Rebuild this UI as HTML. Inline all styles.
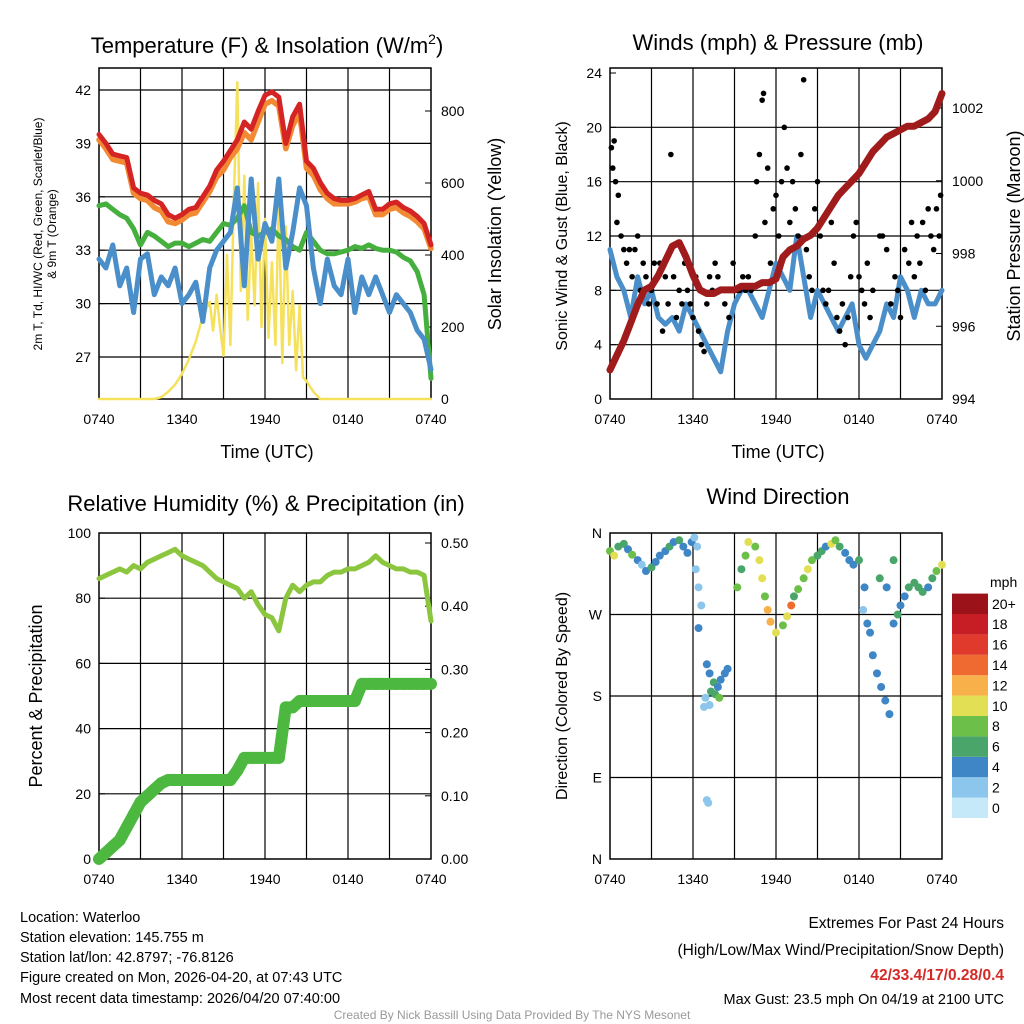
<!DOCTYPE html>
<html><head><meta charset="utf-8">
<style>
html,body{margin:0;padding:0;background:#fff;}
svg{display:block;font-family:"Liberation Sans",sans-serif;}
</style></head>
<body>
<svg id="chart" width="1024" height="1024" viewBox="0 0 1024 1024">
<rect width="1024" height="1024" fill="#fff"/>
<g id="g1"></g>
<g id="g2"></g>
<g id="g3"></g>
<g id="g4"></g>
<g font-size="14.5" fill="#000">
<text x="20" y="922">Location: Waterloo</text>
<text x="20" y="942">Station elevation: 145.755 m</text>
<text x="20" y="962">Station lat/lon: 42.8797; -76.8126</text>
<text x="20" y="982">Figure created on Mon, 2026-04-20, at 07:43 UTC</text>
<text x="20" y="1003">Most recent data timestamp: 2026/04/20 07:40:00</text>
</g>
<g font-size="15.5" text-anchor="end">
<text x="1004" y="928">Extremes For Past 24 Hours</text>
<text x="1004" y="955">(High/Low/Max Wind/Precipitation/Snow Depth)</text>
<text x="1004" y="980" fill="#d42a27" font-weight="bold">42/33.4/17/0.28/0.4</text>
<text x="1004" y="1004" font-size="14.5">Max Gust: 23.5 mph On 04/19 at 2100 UTC</text>
</g>
<text x="512" y="1019" text-anchor="middle" font-size="12" fill="#999">Created By Nick Bassill Using Data Provided By The NYS Mesonet</text>
</svg>
<script>
// ---- data ----
const xTickLabels = ["0740","1340","1940","0140","0740"];
const tempRed = [39.5,39.0,38.4,38.3,38.2,36.5,36.2,36.1,35.8,35.6,35.0,34.8,35.0,35.3,35.4,36.0,36.6,37.5,38.0,38.6,39.2,40.2,39.8,40.8,41.7,41.9,41.6,39.0,40.5,41.2,38.0,37.6,36.8,36.2,35.9,35.8,35.8,35.9,36.1,36.3,35.3,35.3,35.6,35.7,35.4,35.2,34.9,34.5,33.3];
const tempOrange = [39.2,38.7,38.1,38.0,37.9,36.2,35.9,35.8,35.4,35.2,34.6,34.5,34.7,35.0,35.1,35.7,36.3,37.1,37.5,38.2,38.7,39.6,39.2,40.2,41.2,41.4,41.1,38.7,40.0,40.7,37.6,37.2,36.4,35.9,35.6,35.6,35.6,35.7,35.9,36.0,35.0,35.0,35.3,35.4,35.1,34.9,34.6,34.2,33.1];
const tempGreen = [35.5,35.6,35.3,35.0,34.8,34.2,33.3,34.0,33.8,33.5,33.2,33.4,33.4,33.2,33.4,33.6,33.5,34.0,34.5,34.4,34.8,35.5,34.0,33.8,34.0,34.2,33.8,33.6,33.2,33.0,34.0,33.5,33.0,32.8,32.8,32.9,33.0,33.2,33.1,33.3,33.1,33.0,33.0,32.9,32.6,32.4,31.8,30.5,25.8];
const tempBlue = [32.5,32.0,33.3,31.0,32.0,29.5,32.5,32.8,30.5,31.5,31.0,32.0,30.0,30.5,31.2,29.0,32.0,33.0,33.5,34.0,36.5,31.0,37.0,32.5,34.5,33.5,37.0,32.0,34.0,36.5,35.5,32.0,30.0,32.5,31.0,30.5,32.5,29.5,31.5,30.5,31.5,30.5,29.5,30.5,30.0,29.5,28.5,28.0,26.3];
const solarTimes = [0,4,4.5,5,5.5,6,6.5,7,7.5,8,8.25,8.5,8.75,9,9.25,9.5,9.75,10,10.25,10.5,10.75,11,11.25,11.5,11.75,12,12.25,12.5,12.75,13,13.25,13.5,13.75,14,14.25,14.5,14.75,15,15.5,16,24];
const solarValues = [0,0,5,20,40,70,110,160,230,270,190,290,200,120,400,150,560,880,300,620,220,460,260,600,200,500,170,380,150,550,100,480,150,300,80,260,60,50,20,0,0];
const windSpeed = [11,9,8,6,9,7,8,6,5.5,6,5,7,6,5,4,3,2,5,7,8,8,7,6,8,10,9,8,12,9,6,8,7,6,5,6,7,4,3,4,5,7,6,9,8,6,8,7,7,8];
const pressure = [994.8,995.2,995.6,996.1,996.6,997.0,997.1,997.4,997.8,998.2,998.3,997.9,997.4,997.0,996.9,996.9,997.0,997.0,997.0,997.1,997.1,997.1,997.2,997.2,997.3,997.9,998.1,998.2,998.4,998.5,998.7,999.0,999.3,999.6,999.8,1000.0,1000.2,1000.5,1000.8,1001.0,1001.2,1001.3,1001.4,1001.5,1001.5,1001.6,1001.7,1001.9,1002.4];
const gustTimes = [0.1,0.2,0.3,0.4,0.5,0.6,0.8,1.0,1.2,1.4,1.6,1.8,2.0,2.2,2.4,2.6,2.8,3.0,3.2,3.4,3.6,3.8,4.0,4.2,4.4,4.6,4.8,5.0,5.2,5.4,5.6,5.8,6.0,6.2,6.4,6.6,6.8,7.0,7.2,7.4,7.6,7.8,8.0,8.3,8.6,8.9,9.2,9.4,9.6,9.8,10.0,10.2,10.5,10.6,10.8,11.0,11.1,11.2,11.4,11.6,11.8,12.0,12.2,12.4,12.6,12.8,13.0,13.2,13.4,13.6,13.8,14.0,14.2,14.4,14.6,14.8,15.0,15.2,15.4,15.6,15.8,16.0,16.2,16.4,16.6,16.8,17.0,17.2,17.4,17.6,17.8,18.0,18.2,18.4,18.6,18.8,19.0,19.5,19.7,20.0,20.3,20.6,20.8,21.0,21.3,21.6,21.8,22.0,22.2,22.4,22.6,22.8,23.0,23.2,23.4,23.6,23.8,23.9];
const gustValues = [18.5,17,19,16,13,15,12,11,10,11,9,11,12,8,10,9,7,8,10,7,10,5,9,7,18,9,6,8,7,10,8,7,6,9,5,4,3.5,7,9,8,10,9,8,7,6,10,8,8,9,8,9,8,12,16,18,22,22.5,13,17,10,14,15,12,16,20,17,13,16,14,12,18,23.5,11,9,8,14,16,12,8,7,8,13,10,6,5,7,4,6,9,12,13,9,8,7,10,6,8,12,12,11,7,9,8,6,11,10,13,9,12,10,13,8,14,12,11,14,12,15];
const rh = [86,87,88,89,88,90,89,91,92,93,94,95,93,92,91,90,88,86,85,84,83,80,82,78,75,74,70,80,84,82,84,85,85,87,88,88,89,89,90,91,93,91,90,89,89,88,88,87,73];
const precip = [0,0.01,0.02,0.03,0.05,0.07,0.09,0.10,0.11,0.12,0.125,0.125,0.125,0.125,0.125,0.125,0.125,0.125,0.125,0.125,0.14,0.16,0.16,0.16,0.16,0.16,0.16,0.24,0.24,0.25,0.25,0.25,0.25,0.25,0.25,0.25,0.25,0.25,0.277,0.277,0.277,0.277,0.277,0.277,0.277,0.277,0.277,0.277,0.277];
const dirTimes = [0,0.3,0.6,1,1.3,1.6,2,2.3,2.6,3,3.3,3.6,4,4.3,4.6,5,5.3,5.6,5.9,6.1,6.3,6.2,6.4,6.6,6.4,7.0,7.2,7.5,7.8,8.0,8.3,8.5,7.3,7.6,7.9,6.9,6.8,7.2,7.0,7.1,9.2,9.5,9.8,10.0,10.5,10.8,11.0,11.2,11.4,11.6,12.0,12.5,12.8,13.1,13.3,13.6,14.0,14.3,14.6,15.0,15.3,15.6,16.0,16.3,16.6,17.0,17.3,17.6,18.0,18.4,18.3,18.6,18.8,19.0,19.3,19.6,19.9,20.2,20.5,20.8,21.0,21.3,21.6,22.0,22.3,22.6,23.0,23.3,23.6,24,19.5,20.0,20.5];
const dirDegrees = [340,335,345,348,342,336,330,325,318,322,328,335,340,345,350,352,345,338,350,355,345,320,300,280,255,215,205,195,190,198,205,210,185,182,178,178,168,170,65,62,300,320,335,350,345,330,310,290,275,262,250,258,268,280,290,298,310,320,330,335,340,345,348,352,345,338,330,325,330,300,275,260,250,225,205,190,175,160,260,270,280,290,300,305,300,295,300,310,318,325,310,300,330];
const dirSpeeds = [8,10,6,6,4,8,4,2,4,6,4,4,4,6,4,6,4,4,4,2,2,2,2,2,4,4,4,6,4,4,4,4,6,6,8,2,2,2,2,2,8,6,8,10,8,10,10,8,12,12,10,8,10,14,6,8,8,10,8,6,6,4,10,8,6,4,4,4,6,4,2,4,4,4,4,4,4,4,4,6,4,4,6,6,6,6,4,6,8,10,6,4,6];
const speedColors = ["#c6e9fa","#8cc6ec","#3f86c6","#4aa56a","#6cbf48","#e3df55","#f8b04a","#ef6a30","#e03a2d","#c71e25","#9b1219"];
const speedLabels = ["0","2","4","6","8","10","12","14","16","18","20+"];

// ---- helpers ----
const NS = "http://www.w3.org/2000/svg";
function mk(parent, tag, attrs, txt){
  const e = document.createElementNS(NS, tag);
  for (const k in attrs) e.setAttribute(k, attrs[k]);
  if (txt !== undefined) e.textContent = txt;
  parent.appendChild(e);
  return e;
}
function linScale(d0,d1,r0,r1){ return v => r0 + (v-d0)*(r1-r0)/(d1-d0); }

function frame(g, P, hGrid, yL, leftTicks, leftFmt, rightTicks, yR, rightFmt){
  const xs = linScale(0,24,P.x0,P.x1);
  for (let h=3; h<24; h+=3){
    const l = mk(g,"line",{x1:xs(h),x2:xs(h),y1:P.y0,y2:P.y1,stroke:"#000","stroke-width":1.2});
    
    
  }
  hGrid.forEach(v=>{
    const l = mk(g,"line",{x1:P.x0,x2:P.x1,y1:yL(v),y2:yL(v),stroke:"#000","stroke-width":1.2});
    
    
  });
  const fr = mk(g,"rect",{x:P.x0,y:P.y0,width:P.x1-P.x0,height:P.y1-P.y0,fill:"none",stroke:"#000","stroke-width":1.5});
  
  
  xTickLabels.forEach((t,i)=>{
    const x = xs(i*6);
    mk(g,"line",{x1:x,x2:x,y1:P.y1,y2:P.y1-6,stroke:"#000"});
    const tx = mk(g,"text",{x:x,y:P.y1+25,"text-anchor":"middle","font-size":14},t);
    
    
  });
  leftTicks.forEach(v=>{
    mk(g,"line",{x1:P.x0,x2:P.x0+6,y1:yL(v),y2:yL(v),stroke:"#000"});
    const tx = mk(g,"text",{x:P.x0-8,y:yL(v)+5,"text-anchor":"end","font-size":14},leftFmt(v));
    
    
  });
  if (rightTicks){
    rightTicks.forEach(v=>{
      mk(g,"line",{x1:P.x1,x2:P.x1-6,y1:yR(v),y2:yR(v),stroke:"#000"});
      const tx = mk(g,"text",{x:P.x1+10,y:yR(v)+5,"font-size":14},rightFmt(v));
      
      
    });
  }
  return xs;
}
function polyline(g, pts, color, w, name){
  const p = mk(g,"polyline",{points:pts.map(p=>p[0].toFixed(1)+","+p[1].toFixed(1)).join(" "),fill:"none",stroke:color,"stroke-width":w,"stroke-linejoin":"round","stroke-linecap":"round"});
  
  
  return p;
}

// ---- Panel 1 ----
(function(){
  const g = document.getElementById("g1");
  const P = {x0:99,x1:431,y0:68,y1:399};
  const yT = linScale(42,27,90,357);
  const yS = linScale(0,800,399,111);
  const xs = frame(g,P,[27,30,33,36,39,42],yT,[27,30,33,36,39,42],v=>String(v),[0,200,400,600,800],yS,v=>String(v));
  polyline(g, solarTimes.map((t,i)=>[xs(t),yS(solarValues[i])]), "#f6e15c", 2.5, "solar-insolation-line");
  polyline(g, tempGreen.map((v,i)=>[xs(i*0.5),yT(v)]), "#45b03e", 5, "green-temp-line");
  polyline(g, tempBlue.map((v,i)=>[xs(i*0.5),yT(v)]), "#4a8fc9", 5, "blue-temp-line");
  polyline(g, tempOrange.map((v,i)=>[xs(i*0.5),yT(v)]), "#f28a33", 5.5, "orange-temp-line");
  polyline(g, tempRed.map((v,i)=>[xs(i*0.5),yT(v)]), "#d42424", 5, "red-temp-line");
  const t = mk(g,"text",{x:267,y:53,"text-anchor":"middle","font-size":22});
  t.innerHTML = 'Temperature (F) &amp; Insolation (W/m<tspan dy="-9" font-size="14">2</tspan><tspan dy="9">)</tspan>';
  
  
  const xl = mk(g,"text",{x:267,y:458,"text-anchor":"middle","font-size":18},"Time (UTC)");
  
  
  const yl = mk(g,"text",{transform:"translate(42,234) rotate(-90)","text-anchor":"middle","font-size":12},"2m T, Td, HI/WC (Red, Green, Scarlet/Blue)");
  
  
  const yl2 = mk(g,"text",{transform:"translate(56,234) rotate(-90)","text-anchor":"middle","font-size":12},"& 9m T (Orange)");
  
  
  const yr = mk(g,"text",{transform:"translate(501,234) rotate(-90)","text-anchor":"middle","font-size":18},"Solar Insolation (Yellow)");
  
  
})();

// ---- Panel 2 ----
(function(){
  const g = document.getElementById("g2");
  const P = {x0:610,x1:942,y0:68,y1:399};
  const yW = linScale(0,24,399,73);
  const yP = linScale(994,1002,399,108);
  const xs = frame(g,P,[4,8,12,16,20],yW,[0,4,8,12,16,20,24],v=>String(v),[994,996,998,1000,1002],yP,v=>String(v));
  polyline(g, windSpeed.map((v,i)=>[xs(i*0.5),yW(v)]), "#4a8fc9", 5, "sonic-wind-line");
  gustTimes.forEach((t,i)=>{
    const c = mk(g,"circle",{cx:xs(t),cy:yW(gustValues[i]),r:2.8,fill:"#000"});
    
    
  });
  polyline(g, pressure.map((v,i)=>[xs(i*0.5),yP(v)]), "#a01c1c", 7, "pressure-line");
  const t = mk(g,"text",{x:778,y:50,"text-anchor":"middle","font-size":22},"Winds (mph) & Pressure (mb)");
  
  
  const xl = mk(g,"text",{x:778,y:458,"text-anchor":"middle","font-size":18},"Time (UTC)");
  
  
  const yl = mk(g,"text",{transform:"translate(567,236) rotate(-90)","text-anchor":"middle","font-size":16},"Sonic Wind & Gust (Blue, Black)");
  
  
  const yr = mk(g,"text",{transform:"translate(1020,236) rotate(-90)","text-anchor":"middle","font-size":18},"Station Pressure (Maroon)");
  
  
})();

// ---- Panel 3 ----
(function(){
  const g = document.getElementById("g3");
  const P = {x0:99,x1:431,y0:533,y1:859};
  const yR = linScale(0,100,859,533);
  const yPr = linScale(0,0.5,859,543);
  const xs = frame(g,P,[20,40,60,80],yR,[0,20,40,60,80,100],v=>String(v),[0,0.1,0.2,0.3,0.4,0.5],yPr,v=>v.toFixed(2));
  precip.forEach((v,i)=>{
    if (i>0){
      const l = mk(g,"line",{x1:xs((i-1)*0.5),y1:yPr(precip[i-1]),x2:xs(i*0.5),y2:yPr(v),stroke:"#4db83f","stroke-width":12,"stroke-linecap":"round"});
      
      
    }
  });
  polyline(g, rh.map((v,i)=>[xs(i*0.5),yR(v)]), "#8cc63f", 5, "relative-humidity-line");
  const t = mk(g,"text",{x:266,y:511,"text-anchor":"middle","font-size":22},"Relative Humidity (%) & Precipitation (in)");
  
  
  const yl = mk(g,"text",{transform:"translate(42,696) rotate(-90)","text-anchor":"middle","font-size":18},"Percent & Precipitation");
  
  
})();

// ---- Panel 4 ----
(function(){
  const g = document.getElementById("g4");
  const P = {x0:610,x1:942,y0:533,y1:859};
  const yD = linScale(0,360,859,533);
  const dirLabels = ["N","E","S","W","N"];
  const xs = frame(g,P,[90,180,270],yD,[0,90,180,270,360],v=>dirLabels[v/90],null);
  dirTimes.forEach((t,i)=>{
    const c = mk(g,"circle",{cx:xs(t),cy:yD(dirDegrees[i]),r:4,fill:speedColors[Math.min(10,Math.floor(dirSpeeds[i]/2))]});
    
    
  });
  const t = mk(g,"text",{x:778,y:504,"text-anchor":"middle","font-size":22},"Wind Direction");
  
  
  const yl = mk(g,"text",{transform:"translate(567,696) rotate(-90)","text-anchor":"middle","font-size":16},"Direction (Colored By Speed)");
  
  
  const lt = mk(g,"text",{x:990,y:587,"font-size":14},"mph");
  
  
  const bh = 20.4;
  speedColors.forEach((c,i)=>{
    const y = 818 - (i+1)*bh;
    const r = mk(g,"rect",{x:952,y:y,width:36,height:bh,fill:c});
    
    
    const tx = mk(g,"text",{x:992,y:y+bh/2+5,"font-size":14},speedLabels[i]);
    
    
  });
})();
</script>
</body></html>
